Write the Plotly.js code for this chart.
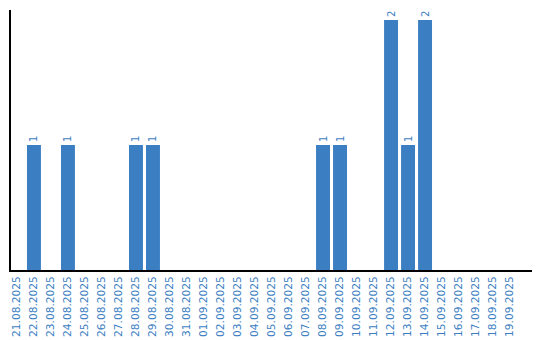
<!DOCTYPE html>
<html><head><meta charset="utf-8">
<script src="https://cdn.plot.ly/plotly-3.0.1.min.js"></script>
<style>html,body{margin:0;padding:0;background:#fff}#c{width:540px;height:340px}</style>
</head><body><div id="c"></div>
<script>
const dates = ["21.08.2025","22.08.2025","23.08.2025","24.08.2025","25.08.2025","26.08.2025","27.08.2025","28.08.2025","29.08.2025","30.08.2025","31.08.2025","01.09.2025","02.09.2025","03.09.2025","04.09.2025","05.09.2025","06.09.2025","07.09.2025","08.09.2025","09.09.2025","10.09.2025","11.09.2025","12.09.2025","13.09.2025","14.09.2025","15.09.2025","16.09.2025","17.09.2025","18.09.2025","19.09.2025"];
const counts = [0,1,0,1,0,0,0,1,1,0,0,0,0,0,0,0,0,0,1,1,0,0,2,1,2,0,0,0,0,0];
const labels = counts.map(v => v > 0 ? String(v) : "");
const blue = "#3b7ec2";
Plotly.newPlot("c", [{
  type: "bar", x: dates, y: counts, text: labels,
  textposition: "outside", textangle: -90, cliponaxis: false,
  textfont: {family: "DejaVu Sans", size: 10, color: blue},
  marker: {color: blue}, width: 0.82, hoverinfo: "none"
}], {
  width: 540, height: 340,
  margin: {l: 11, r: 8, t: 10, b: 70},
  paper_bgcolor: "#fff", plot_bgcolor: "#fff",
  showlegend: false,
  xaxis: {type: "category", range: [-0.35, 30.29], showline: true, linecolor: "#000", linewidth: 2,
    ticks: "", tickangle: -90, tickfont: {family: "DejaVu Sans", size: 10.6, color: blue}, showgrid: false, zeroline: false},
  yaxis: {range: [0, 2.08], showline: true, linecolor: "#000", linewidth: 2, showticklabels: false, ticks: "", showgrid: false, zeroline: false}
}, {staticPlot: true});
</script></body></html>
